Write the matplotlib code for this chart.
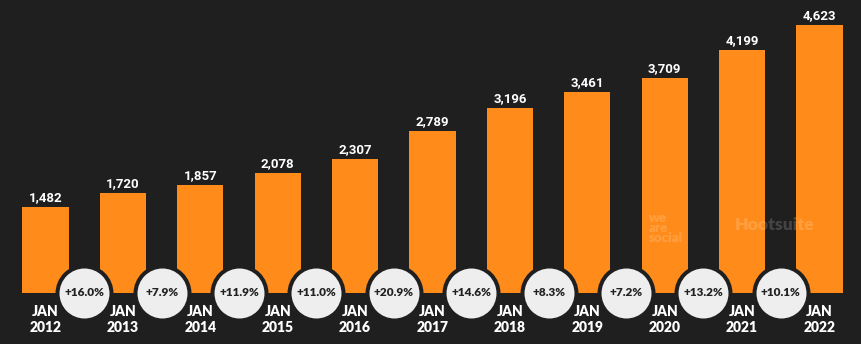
import matplotlib
matplotlib.use("Agg")
import matplotlib.pyplot as plt

years = ["2012", "2013", "2014", "2015", "2016", "2017", "2018", "2019", "2020", "2021", "2022"]
users = [1482, 1720, 1857, 2078, 2307, 2789, 3196, 3461, 3709, 4199, 4623]
growth = ["+16.0%", "+7.9%", "+11.9%", "+11.0%", "+20.9%", "+14.6%", "+8.3%", "+7.2%", "+13.2%", "+10.1%"]

BG = "#1f1f1f"
ORANGE = "#ff8c1a"
CIRCLE = "#eeeeee"

fig = plt.figure(figsize=(8.61, 3.44), dpi=100, facecolor=BG)
ax = fig.add_axes([0, 0, 1, 1])
ax.set_facecolor(BG)
ax.set_axis_off()

x = list(range(len(years)))
ax.bar(x, users, width=0.595, color=ORANGE, zorder=2)

ax.set_xlim(-0.588, 10.536)
ax.set_ylim(-880, 5054)

for xi, v in zip(x, users):
    ax.text(xi, v + 50, f"{v:,}", ha="center", va="bottom", color="white",
            fontsize=9.5, fontweight="bold", family="Roboto", zorder=4)

for xi, y in zip(x, years):
    ax.text(xi, -325, "JAN", ha="center", va="center", color="white",
            fontsize=10, fontweight="heavy", family="Lato", zorder=4)
    ax.text(xi, -590, y, ha="center", va="center", color="white",
            fontsize=10, fontweight="heavy", family="Lato", zorder=4)

mid = [i + 0.5 for i in x[:-1]]
ax.scatter(mid, [0] * len(mid), s=(54 * 0.72) ** 2, color=CIRCLE,
           edgecolors=BG, linewidths=4 * 0.72, zorder=5)
for xm, g in zip(mid, growth):
    ax.text(xm, 0, g, ha="center", va="center", color="#222222",
            fontsize=8.5, fontweight="heavy", family="Lato", zorder=6)

# faint partner watermark over the right-hand bars
ax.text(7.8, 1120, "we\nare\nsocial", ha="left", va="center", color="white",
        alpha=0.17, fontsize=9.5, fontweight="heavy", family="Lato",
        linespacing=0.8, zorder=3)
ax.text(8.9, 1180, "Hootsuite", ha="left", va="center", color="white",
        alpha=0.17, fontsize=12.5, fontweight="heavy", family="Lato", zorder=3)

fig.savefig("out.png", dpi=100, facecolor=BG)
